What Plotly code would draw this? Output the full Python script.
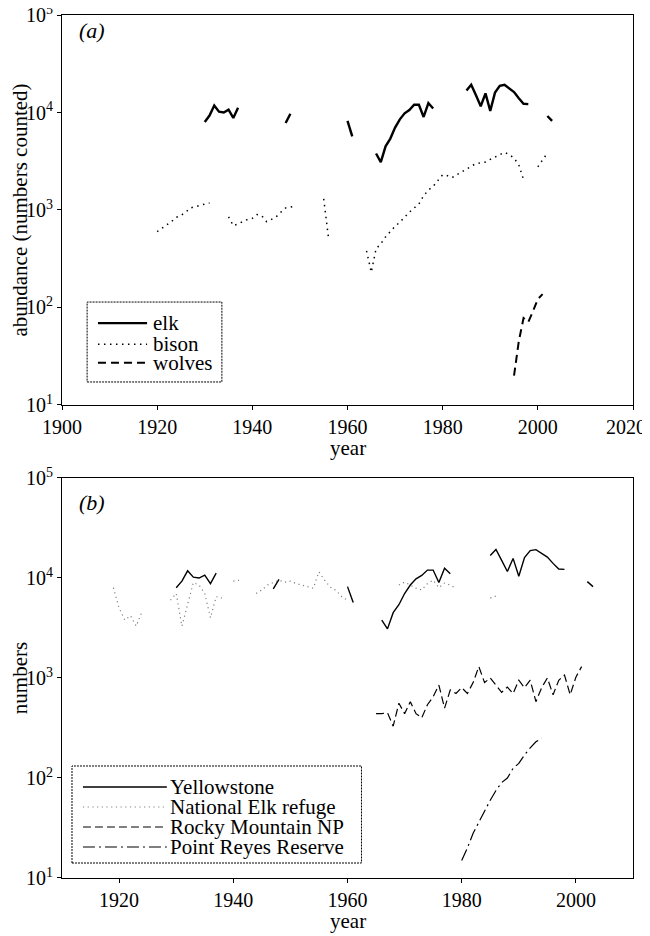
import plotly.graph_objects as go
from plotly.subplots import make_subplots

# panel (a): Yellowstone counts
elk_years = [1930, 1931, 1932, 1933, 1934, 1935, 1936, 1937, 1938,
             1947, 1948, 1949,
             1960, 1961, 1962,
             1966, 1967, 1968, 1969, 1970, 1971, 1972, 1973, 1974, 1975, 1976, 1977, 1978, 1979,
             1985, 1986, 1987, 1988, 1989, 1990, 1991, 1992, 1993, 1994, 1995, 1996, 1997, 1998, 1999,
             2002, 2003]
elk_counts = [8000, 9300, 11800, 10200, 10000, 10700, 8800, 11200, None,
              7800, 9700, None,
              8200, 5700, None,
              3800, 3100, 4500, 5400, 7000, 8500, 9800, 10600, 12000, 12000, 9000, 12500, 11000, None,
              16800, 19300, 15000, 11600, 15700, 10400, 16000, 18800, 19200, 17800, 16200, 14000, 12300, 12200, None,
              9200, 8200]

bison_years = [1920, 1921, 1922, 1923, 1924, 1925, 1926, 1927, 1928, 1929, 1930, 1931, 1932,
               1935, 1936, 1937, 1938, 1939, 1940, 1941, 1942, 1943, 1944, 1945, 1946, 1947, 1948, 1949, 1950,
               1955, 1956, 1957,
               1964, 1965, 1966, 1967, 1968, 1969, 1970, 1971, 1972, 1973, 1974, 1975, 1976, 1977, 1978,
               1979, 1980, 1981, 1982, 1983, 1984, 1985, 1986, 1987, 1988, 1989, 1990, 1991, 1992, 1993,
               1994, 1995, 1996, 1997, 1998, 1999, 2000, 2001, 2002]
bison_counts = [600, 650, 700, 760, 840, 880, 950, 1050, 1080, 1120, 1150, 1180, None,
                850, 690, 720, 760, 800, 820, 900, 870, 760, 800, 850, 950, 1050, 1070, 1100, None,
                1300, 520, None,
                380, 230, 400, 450, 530, 600, 680, 750, 850, 950, 1050, 1150, 1400, 1600, 1750,
                2000, 2300, 2250, 2150, 2300, 2450, 2600, 2800, 3000, 3050, 3100, 3300, 3500, 3700, 3900,
                3700, 3400, 2900, 2050, None, None, 2770, 3300, 3830]

wolf_years = [1995, 1996, 1997, 1998, 1999, 2000, 2001]
wolf_counts = [20, 45, 78, 71, 92, 122, 137]

# panel (b): elk herds
refuge_years = [1919, 1920, 1921, 1922, 1923, 1924, 1925,
                1929, 1930, 1931, 1932, 1933, 1934, 1935, 1936, 1937, 1938, 1939,
                1940, 1941, 1942,
                1944, 1945, 1946, 1947, 1948, 1949, 1950, 1951, 1952, 1953, 1954, 1955, 1956, 1957,
                1958, 1959, 1960, 1961,
                1969, 1970, 1971, 1972, 1973, 1974, 1975, 1976, 1977, 1978, 1979, 1980,
                1985, 1986]
refuge_counts = [8000, 5000, 3800, 4200, 3300, 4600, None,
                 6000, 7000, 3300, 5500, 9000, 8500, 7000, 4000, 6500, 6300, None,
                 9300, 9500, None,
                 7000, 7600, 8500, 9000, 9500, 9100, 9300, 8800, 8500, 8200, 7900, 11500, 9500, 8100,
                 7500, 6500, 6000, None,
                 8500, 9100, 8500, 7900, 7600, 8800, 9500, 8000, 8900, 8500, 7900, None,
                 6300, 6600]

rocky_years = list(range(1965, 2002))
rocky_counts = [440, 440, 450, 330, 560, 440, 580, 440, 400, 540, 650, 850, 500, 760, 700,
                800, 700, 900, 1300, 900, 1000, 850, 720, 810, 700, 950, 800, 950, 580, 800,
                1000, 680, 950, 1070, 680, 1020, 1300]

reyes_years = list(range(1980, 1995))
reyes_counts = [15, 20, 28, 36, 48, 60, 75, 90, 100, 125, 140, 170, 200, 230, 250]

year_ticks_a = [1900, 1920, 1940, 1960, 1980, 2000, 2020]
year_ticks_b = [1920, 1940, 1960, 1980, 2000]

serif = "Liberation Serif"

lines_a = [
    ("elk", dict(color="black", width=2.4)),
    ("bison", dict(color="black", width=1.5, dash="1.5px,4.5px")),
    ("wolves", dict(color="black", width=2, dash="8px,5px")),
]
lines_b = [
    ("Yellowstone", dict(color="black", width=1.4)),
    ("National Elk refuge", dict(color="#808080", width=1.2, dash="1.2px,3.5px")),
    ("Rocky Mountain NP", dict(color="black", width=1.2, dash="8px,4px")),
    ("Point Reyes Reserve", dict(color="black", width=1.2, dash="12px,4px,2px,4px")),
]

fig = make_subplots(rows=2, cols=1)

fig.add_trace(go.Scatter(x=elk_years, y=elk_counts, name="elk", mode="lines", line=lines_a[0][1]), row=1, col=1)
fig.add_trace(go.Scatter(x=bison_years, y=bison_counts, name="bison", mode="lines", line=lines_a[1][1]), row=1, col=1)
fig.add_trace(go.Scatter(x=wolf_years, y=wolf_counts, name="wolves", mode="lines", line=lines_a[2][1]), row=1, col=1)

fig.add_trace(go.Scatter(x=elk_years, y=elk_counts, name="Yellowstone", mode="lines", line=lines_b[0][1]), row=2, col=1)
fig.add_trace(go.Scatter(x=refuge_years, y=refuge_counts, name="National Elk refuge", mode="lines", line=lines_b[1][1]), row=2, col=1)
fig.add_trace(go.Scatter(x=rocky_years, y=rocky_counts, name="Rocky Mountain NP", mode="lines", line=lines_b[2][1]), row=2, col=1)
fig.add_trace(go.Scatter(x=reyes_years, y=reyes_counts, name="Point Reyes Reserve", mode="lines", line=lines_b[3][1]), row=2, col=1)

log_vals = [10, 100, 1000, 10000, 100000]
log_text = ["10<sup>1</sup>", "10<sup>2</sup>", "10<sup>3</sup>", "10<sup>4</sup>", "10<sup>5</sup>"]

title_font = dict(family=serif, size=21, color="black")
tick_font = dict(family=serif, size=20, color="black")
axis_style = dict(showline=True, linecolor="black", linewidth=1, mirror=True, automargin=False,
                  ticks="outside", ticklen=4, tickcolor="black", showgrid=False, zeroline=False,
                  ticklabeloverflow="allow", tickfont=tick_font)

# last label of (a) is nudged left so it stays inside the page, as in the original
fig.update_xaxes(range=[1900, 2020], tickvals=year_ticks_a,
                 ticktext=[str(v) for v in year_ticks_a[:-1]] + [""],
                 row=1, col=1, **axis_style)
fig.add_annotation(text=str(year_ticks_a[-1]), xref="x", yref="y domain", x=year_ticks_a[-1], y=0,
                   xshift=-7, yshift=-22, xanchor="center", yanchor="middle", showarrow=False,
                   font=tick_font)
fig.update_xaxes(range=[1910, 2010], tickvals=year_ticks_b, row=2, col=1, **axis_style)
fig.update_yaxes(type="log", range=[1, 5], tickvals=log_vals, ticktext=log_text, domain=[0.5481, 1.0],
                 title=dict(text="abundance (numbers counted)", standoff=3, font=title_font),
                 row=1, col=1, **axis_style)
fig.update_yaxes(type="log", range=[1, 5], tickvals=log_vals, ticktext=log_text, domain=[0.0, 0.4635],
                 title=dict(text="numbers", standoff=3, font=title_font), row=2, col=1, **axis_style)

# x titles sit closer to the tick labels than plotly's axis titles allow
for xd, yd in [("x domain", "y domain"), ("x2 domain", "y2 domain")]:
    fig.add_annotation(text="year", xref=xd, yref=yd, x=0.5, y=0, yshift=-43,
                       xanchor="center", yanchor="middle", showarrow=False, font=title_font)

fig.add_annotation(text="<i>(a)</i>", xref="x domain", yref="y domain", x=0.027, y=0.9615,
                   xanchor="left", yanchor="middle", showarrow=False,
                   font=dict(family=serif, size=22, color="black"))
fig.add_annotation(text="<i>(b)</i>", xref="x2 domain", yref="y2 domain", x=0.027, y=0.9375,
                   xanchor="left", yanchor="middle", showarrow=False,
                   font=dict(family=serif, size=22, color="black"))


def draw_key(xref, yref, box, rows, sample_x, text_x):
    # boxed key: one line sample and one label per row
    fig.add_shape(type="rect", xref=xref, yref=yref, x0=box[0], x1=box[1], y0=box[2], y1=box[3],
                  line=dict(color="black", width=1, dash="2px,1px"), fillcolor="white", layer="above")
    for (label, style), yy in zip(rows[0], rows[1]):
        fig.add_shape(type="line", xref=xref, yref=yref, x0=sample_x[0], x1=sample_x[1], y0=yy, y1=yy,
                      line=style, layer="above")
        fig.add_annotation(text=label, xref=xref, yref=yref, x=text_x, y=yy, xanchor="left",
                           yanchor="middle", showarrow=False,
                           font=dict(family=serif, size=21, color="black"))


draw_key("x domain", "y domain", (0.044, 0.280, 0.059, 0.264),
         (lines_a, [0.210, 0.156, 0.108]), (0.063, 0.149), 0.156)
draw_key("x2 domain", "y2 domain", (0.0175, 0.5245, 0.0375, 0.28),
         (lines_b, [0.2275, 0.1775, 0.1275, 0.0775]), (0.0367, 0.1836), 0.186)

# the page adds an 8px body margin, so margins are shifted to keep the plot boxes in place
fig.update_layout(
    width=642, height=928,
    margin=dict(l=54, r=17, t=7, b=58),
    plot_bgcolor="white", paper_bgcolor="white",
    font=dict(family=serif, size=20, color="black"),
    showlegend=False,
)

fig.write_html("out.html")
